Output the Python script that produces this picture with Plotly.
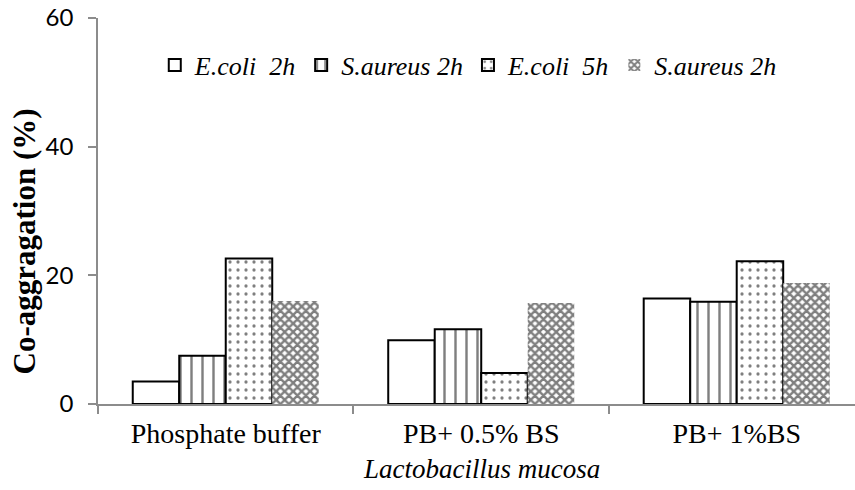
import plotly.graph_objects as go

categories = ["Phosphate buffer", "PB+ 0.5% BS", "PB+ 1%BS"]
series_names = ["<i>E.coli&nbsp; 2h</i>", "<i>S.aureus 2h</i>", "<i>E.coli&nbsp; 5h</i>", "<i>S.aureus 2h</i>"]
ecoli_2h = [3.5, 9.9, 16.4]
saureus_2h = [7.5, 11.6, 15.9]
ecoli_5h = [22.6, 4.8, 22.2]
saureus_2h_b = [16.0, 15.7, 18.8]
y_ticks = [0, 20, 40, 60]

values = [ecoli_2h, saureus_2h, ecoli_5h, saureus_2h_b]
patterns = [
    dict(shape=""),
    dict(shape="|", size=11, solidity=0.22, fgcolor="black", bgcolor="white", fillmode="overlay"),
    dict(shape=".", size=8, solidity=0.13, fgcolor="black", bgcolor="white", fillmode="overlay"),
    dict(shape="x", size=6, solidity=0.65, fgcolor="black", bgcolor="white", fillmode="overlay"),
]
line_widths = [2, 2, 2, 0]

fig = go.Figure()
for name, vals, pat, lw in zip(series_names, values, patterns, line_widths):
    fig.add_trace(go.Bar(
        x=categories, y=vals, name=name,
        marker=dict(color="white", pattern=pat, line=dict(color="black", width=lw)),
    ))

serif = "Liberation Serif, Times New Roman, serif"
fig.update_layout(
    width=855, height=490,
    paper_bgcolor="white", plot_bgcolor="white",
    margin=dict(l=98, r=0, t=18, b=86, autoexpand=False),
    barmode="group", bargap=0.272, bargroupgap=0,
    showlegend=True,
    legend=dict(orientation="h", x=0.075, xanchor="left", y=0.878, yanchor="middle",
                font=dict(family=serif, size=26, color="black"),
                bgcolor="rgba(0,0,0,0)", itemwidth=30, traceorder="normal"),
    xaxis=dict(range=[-0.5, 2.463], showline=True, linecolor="#8c8c8c", linewidth=1.5,
               ticks="outside", tickson="boundaries", ticklen=8, tickcolor="#8c8c8c", tickwidth=1.5,
               tickfont=dict(family=serif, size=28, color="black"), showgrid=False,
               ticklabelstandoff=4),
    yaxis=dict(range=[0, 60], tickvals=y_ticks, showline=True, linecolor="#8c8c8c", linewidth=1.5,
               ticks="outside", ticklen=8, tickcolor="#8c8c8c", tickwidth=1.5,
               tickfont=dict(family="Lato, Carlito, sans-serif", size=24, color="black"),
               showgrid=False, zeroline=False, ticklabelstandoff=10,
               ticklabeloverflow="allow"),
    annotations=[
        dict(text="<i>Lactobacillus mucosa</i>", xref="x", x=1, yref="paper", y=-0.168,
             xanchor="center", yanchor="middle", showarrow=False,
             font=dict(family=serif, size=27, color="black")),
        dict(text="<b>Co-aggragation (%)</b>", xref="paper", x=-0.097, yref="paper", y=0.42,
             xanchor="center", yanchor="middle", textangle=-90, showarrow=False,
             font=dict(family=serif, size=31, color="black")),
    ],
)

fig.write_html("out.html", config={"displayModeBar": False},
               post_script="document.body.style.margin='0';")
